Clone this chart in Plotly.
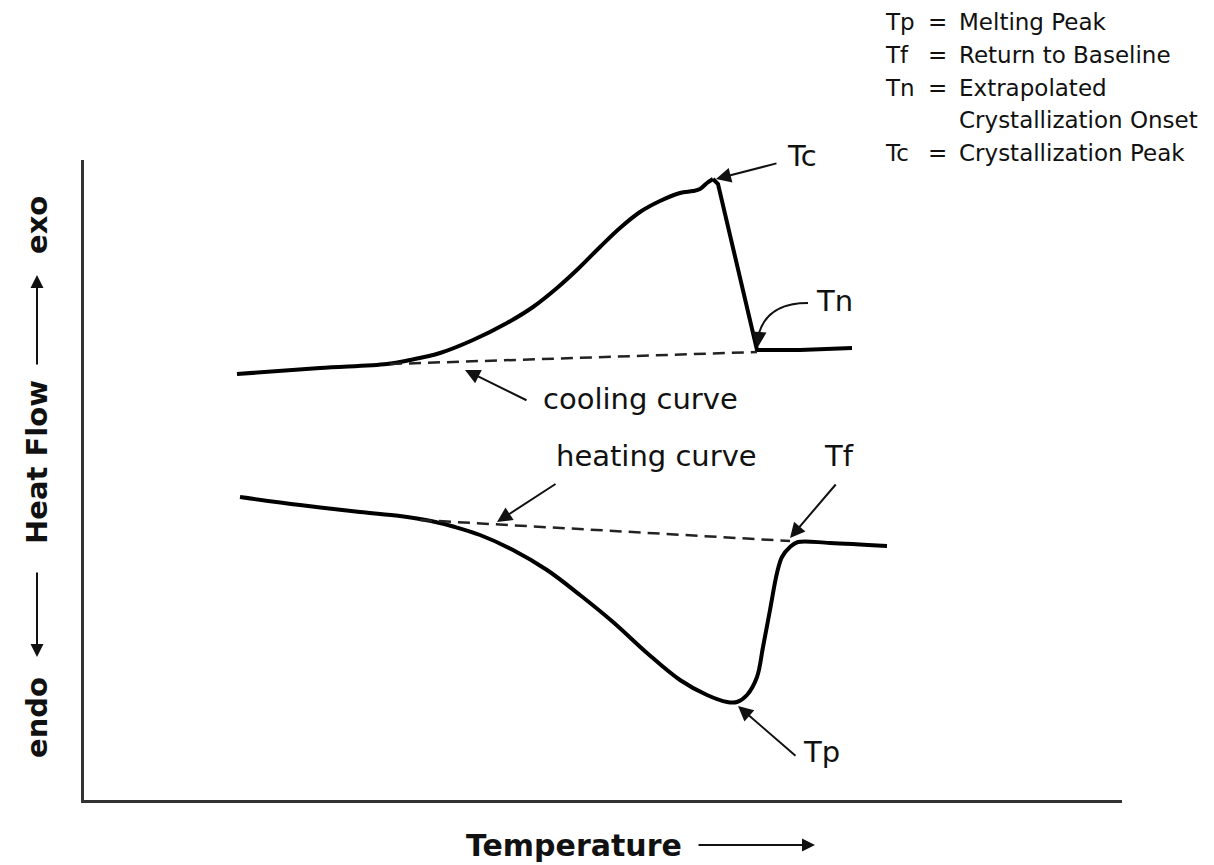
import plotly.graph_objects as go

# ---------------- data (arbitrary units: temperature, heat flow) ----------------
cool_rise_temp = [153, 236, 303, 326, 356, 389, 423, 449, 473, 496, 516, 536, 556, 576, 596, 609, 616, 623, 629]
cool_rise_flow = [426, 432, 436, 440, 447, 460, 477, 493, 512, 533, 553, 572, 588, 599, 607, 609, 611, 617, 621]
cool_drop_temp = [629, 634, 673, 680, 716, 768]
cool_drop_flow = [621, 616, 450, 450, 450, 452]
cool_base_temp = [306, 673]
cool_base_flow = [436, 448]

heat_temp = [156, 216, 276, 316, 347, 371, 396, 429, 463, 496, 529, 563, 596, 623, 643, 653, 663, 673, 679, 686, 693, 698, 706, 714, 746, 803]
heat_flow = [303, 295, 288, 284, 279, 273, 265, 250, 230, 205, 178, 147, 120, 105, 98, 98, 105, 123, 153, 190, 227, 243, 253, 258, 257, 254]
heat_base_temp = [336, 706]
heat_base_flow = [280, 259]

legend_keys = ["Tp", "Tf", "Tn", "", "Tc"]
legend_eq = ["=", "=", "=", "", "="]
legend_defs = ["Melting Peak", "Return to Baseline", "Extrapolated",
               "Crystallization Onset", "Crystallization Peak"]

# ---------------- layout geometry ----------------
W, H = 1214, 865
L, R, T, B = 84, 92, 160, 65
PW, PH = W - L - R, H - T - B
FONT = "DejaVu Sans"


def px(xp, yp):
    """pixel position -> paper coordinates"""
    return (xp - L) / PW, (H - B - yp) / PH


fig = go.Figure()

line_style = dict(color="black", width=4)
dash_style = dict(color="#222", width=2.5, dash="12px,7px")

fig.add_trace(go.Scatter(x=cool_rise_temp, y=cool_rise_flow, mode="lines",
                         line=dict(shape="spline", smoothing=1.0, **line_style)))
fig.add_trace(go.Scatter(x=cool_drop_temp, y=cool_drop_flow, mode="lines",
                         line=line_style))
fig.add_trace(go.Scatter(x=cool_base_temp, y=cool_base_flow, mode="lines",
                         line=dash_style))
fig.add_trace(go.Scatter(x=heat_temp, y=heat_flow, mode="lines",
                         line=dict(shape="spline", smoothing=1.0, **line_style)))
fig.add_trace(go.Scatter(x=heat_base_temp, y=heat_base_flow, mode="lines",
                         line=dash_style))

annotations = []


def text(s, xp, yp, size=29, bold=False, anchor="center", angle=0):
    x, y = px(xp, yp)
    annotations.append(dict(
        x=x, y=y, xref="paper", yref="paper", text=f"<b>{s}</b>" if bold else s,
        showarrow=False, xanchor=anchor, yanchor="middle", textangle=angle,
        font=dict(family=FONT, size=size, color="#111")))


def arrow(head, tail, width=2, size=1.5):
    x, y = px(*head)
    annotations.append(dict(
        x=x, y=y, xref="paper", yref="paper", text="", showarrow=True,
        ax=tail[0] - head[0], ay=tail[1] - head[1], axref="pixel", ayref="pixel",
        arrowhead=2, arrowsize=size, arrowwidth=width, arrowcolor="#111",
        standoff=0, startstandoff=0))


# curve labels
text("Tc", 802, 156)
arrow((716, 179), (778, 163))
text("Tn", 834, 301)
text("cooling curve", 640, 399)
arrow((465, 370), (528, 401))
text("heating curve", 656, 456)
arrow((497, 522), (557, 483))
text("Tf", 839, 456)
arrow((790, 538), (837, 483))
text("Tp", 821, 752)
arrow((738, 706), (797, 757))

# curved Tn arrow
fig.add_shape(type="path", xref="paper", yref="paper",
              path="M {} {} Q {} {} {} {}".format(*px(808, 303), *px(768, 303), *px(759, 333)),
              line=dict(color="#111", width=2))
arrow((758, 347), (759, 332))

# legend text (top right)
rows_y = [22, 55, 88, 120, 153]
for k, e, d, yy in zip(legend_keys, legend_eq, legend_defs, rows_y):
    if k:
        text(k, 883, yy, size=23, anchor="left")
    if e:
        text(e, 926, yy, size=23, anchor="left")
    text(d, 957, yy, size=23, anchor="left")

# axis titles
text("Temperature", 574, 845, size=30, bold=True)
arrow((815, 845), (697, 845), width=2, size=1.3)
text("exo", 37, 225, size=29, bold=True, angle=-90)
arrow((37, 275), (37, 366), width=2, size=1.3)
text("Heat Flow", 37, 462, size=29, bold=True, angle=-90)
arrow((37, 657), (37, 571), width=2, size=1.3)
text("endo", 37, 718, size=29, bold=True, angle=-90)

fig.update_layout(
    width=W, height=H,
    margin=dict(l=L, r=R, t=T, b=B, pad=0),
    paper_bgcolor="white", plot_bgcolor="white",
    showlegend=False,
    annotations=annotations,
    xaxis=dict(range=[0, PW], showline=True, linecolor="#333", linewidth=2.5,
               showgrid=False, zeroline=False, showticklabels=False, ticks=""),
    yaxis=dict(range=[0, PH], showline=True, linecolor="#333", linewidth=2.5,
               showgrid=False, zeroline=False, showticklabels=False, ticks=""),
)

fig.write_html("out.html")
